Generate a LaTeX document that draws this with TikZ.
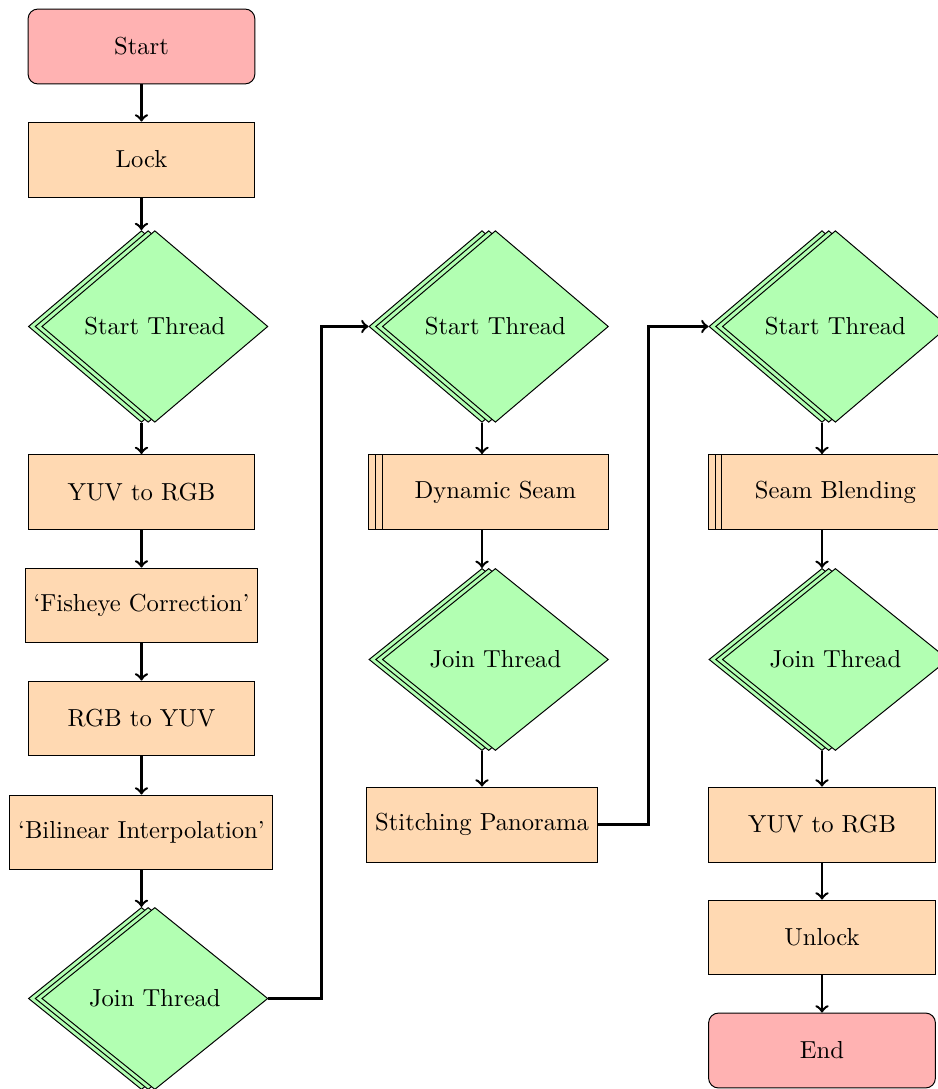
\documentclass[tikz,border=0pt]{standalone}
\usetikzlibrary{shapes.geometric,shadows,arrows}

\begin{document}
\begin{tikzpicture}[
  startstop/.style={rectangle, rounded corners, draw, fill=red!30, minimum width=3.24cm, minimum height=1.07cm},
  process/.style={rectangle, draw, fill=orange!30, minimum width=3.24cm, minimum height=1.07cm},
  twocopies/.style={copy shadow={shadow xshift=-5.44pt, shadow yshift=0pt}, copy shadow={shadow xshift=-2.72pt, shadow yshift=0pt}},
  subproc/.style={process, twocopies},
  thread/.style={diamond, draw, fill=green!30, minimum width=3.23cm, twocopies},
  arrow/.style={line width=1pt,->}
]
\useasboundingbox (0,0) rectangle (13.4,-15.557);

% first column
\node[startstop] (start) at (2.021,-0.664) {Start};
\node[process] (lock) at (2.021,-2.279) {Lock};
\node[thread] (st1) at (2.212,-4.664) {Start Thread};
\node[process] (yuv1) at (2.021,-7.029) {YUV to RGB};
\node[process] (fish) at (2.021,-8.65) {`Fisheye Correction'};
\node[process] (rgb) at (2.021,-10.264) {RGB to YUV};
\node[process] (bil) at (2.021,-11.893) {`Bilinear Interpolation'};
\node[thread] (jt1) at (2.212,-14.264) {Join Thread};

% second column
\node[thread] (st2) at (7.077,-4.664) {Start Thread};
\node[subproc] (seam) at (7.077,-7.029) {Dynamic Seam};
\node[thread] (jt2) at (7.077,-9.421) {Join Thread};
\node[process] (stitch) at (6.886,-11.779) {Stitching Panorama};

% third column
\node[thread] (st3) at (11.934,-4.664) {Start Thread};
\node[subproc] (blend) at (11.934,-7.029) {Seam Blending};
\node[thread] (jt3) at (11.934,-9.421) {Join Thread};
\node[process] (yuv2) at (11.743,-11.779) {YUV to RGB};
\node[process] (unlock) at (11.743,-13.393) {Unlock};
\node[startstop] (end) at (11.743,-15.007) {End};

% arrows
\draw[arrow] (start) -- (lock);
\draw[arrow] (lock) -- (lock |- st1.north);
\draw[arrow] (st1.south -| yuv1) -- (yuv1);
\draw[arrow] (yuv1) -- (fish);
\draw[arrow] (fish) -- (rgb);
\draw[arrow] (rgb) -- (bil);
\draw[arrow] (bil) -- (bil |- jt1.north);
\draw[arrow] (jt1.east) -- ++(0.757,0) |- ([xshift=-0.191cm]st2.west);

\draw[arrow] (st2.south -| stitch) -- (stitch |- seam.north);
\draw[arrow] (seam.south -| stitch) -- (stitch |- jt2.north);
\draw[arrow] (jt2.south -| stitch) -- (stitch);
\draw[arrow] (stitch.east) -- ++(0.729,0) |- ([xshift=-0.191cm]st3.west);

\draw[arrow] (st3.south -| yuv2) -- (yuv2 |- blend.north);
\draw[arrow] (blend.south -| yuv2) -- (yuv2 |- jt3.north);
\draw[arrow] (jt3.south -| yuv2) -- (yuv2);
\draw[arrow] (yuv2) -- (unlock);
\draw[arrow] (unlock) -- (end);
\end{tikzpicture}
\end{document}
